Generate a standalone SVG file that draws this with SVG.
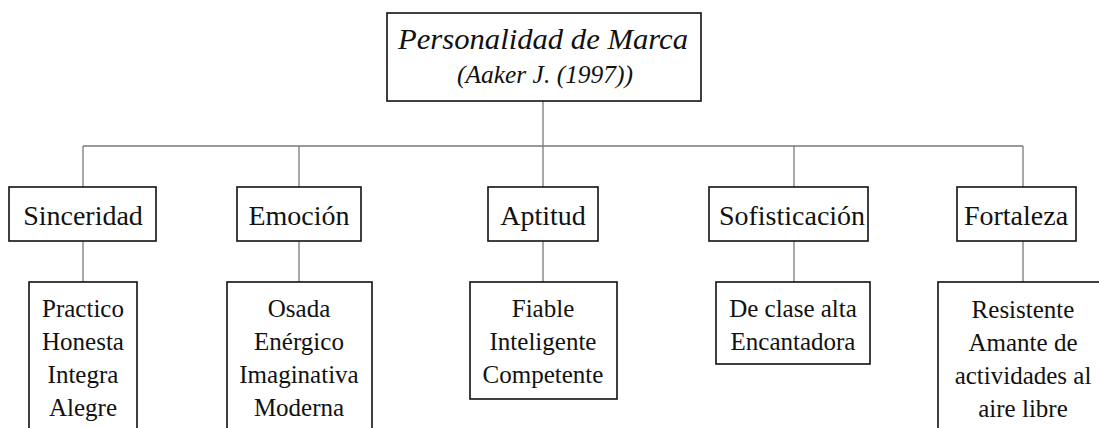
<svg xmlns="http://www.w3.org/2000/svg" width="1099" height="428" viewBox="0 0 1099 428">
<style>
.box{fill:#fff;stroke:#111;stroke-width:1.6}
.ln{fill:none;stroke:#7a7a7a;stroke-width:1.3}
text{font-family:"Liberation Serif","DejaVu Serif",serif;fill:#111;text-anchor:middle}
.t1{font-size:30px;font-style:italic}
.t2{font-size:25px;font-style:italic}
.h{font-size:28px}
.l{font-size:25px}
</style>
<rect width="1099" height="428" fill="#fff"/>
<g id="connectors">
<path class="ln" d="M543,101V146M83,146H1023M83,146V187M299,146V187M543,146V187M794,146V187M1023,146V187"/>
<path class="ln" d="M83,241V282M299,241V282M543,241V282M794,241V282M1023,241V282"/>
</g>
<g id="root">
<rect class="box" x="387" y="13" width="314" height="88"/>
<text class="t1" x="543" y="49" textLength="290" lengthAdjust="spacingAndGlyphs">Personalidad de Marca</text>
<text class="t2" x="545" y="83" textLength="176" lengthAdjust="spacingAndGlyphs">(Aaker J. (1997))</text>
</g>
<g id="sinceridad">
<rect class="box" x="9" y="187" width="147" height="54"/>
<text class="h" x="83" y="225">Sinceridad</text>
</g>
<g id="emocion">
<rect class="box" x="237" y="187" width="124" height="54"/>
<text class="h" x="299" y="225">Emoción</text>
</g>
<g id="aptitud">
<rect class="box" x="488" y="187" width="110" height="54"/>
<text class="h" x="543" y="225">Aptitud</text>
</g>
<g id="sofisticacion">
<rect class="box" x="709" y="187" width="159" height="54"/>
<text class="h" x="792" y="225">Sofisticación</text>
</g>
<g id="fortaleza">
<rect class="box" x="957" y="187" width="119" height="54"/>
<text class="h" x="1016" y="225">Fortaleza</text>
</g>
<g id="sinceridad-list">
<rect class="box" x="29" y="282" width="108" height="160"/>
<text class="l" x="83" y="317">Practico</text>
<text class="l" x="83" y="350">Honesta</text>
<text class="l" x="83" y="383">Integra</text>
<text class="l" x="83" y="416">Alegre</text>
</g>
<g id="emocion-list">
<rect class="box" x="227" y="282" width="145" height="160"/>
<text class="l" x="299" y="317">Osada</text>
<text class="l" x="299" y="350">Enérgico</text>
<text class="l" x="299" y="383">Imaginativa</text>
<text class="l" x="299" y="416">Moderna</text>
</g>
<g id="aptitud-list">
<rect class="box" x="470" y="282" width="147" height="117"/>
<text class="l" x="543" y="317">Fiable</text>
<text class="l" x="543" y="350">Inteligente</text>
<text class="l" x="543" y="383">Competente</text>
</g>
<g id="sofisticacion-list">
<rect class="box" x="716" y="282" width="154" height="82"/>
<text class="l" x="793" y="317">De clase alta</text>
<text class="l" x="793" y="350">Encantadora</text>
</g>
<g id="fortaleza-list">
<rect class="box" x="938" y="282" width="170" height="160"/>
<text class="l" x="1023" y="318">Resistente</text>
<text class="l" x="1023" y="351">Amante de</text>
<text class="l" x="1023" y="384">actividades al</text>
<text class="l" x="1023" y="417">aire libre</text>
</g>
</svg>
